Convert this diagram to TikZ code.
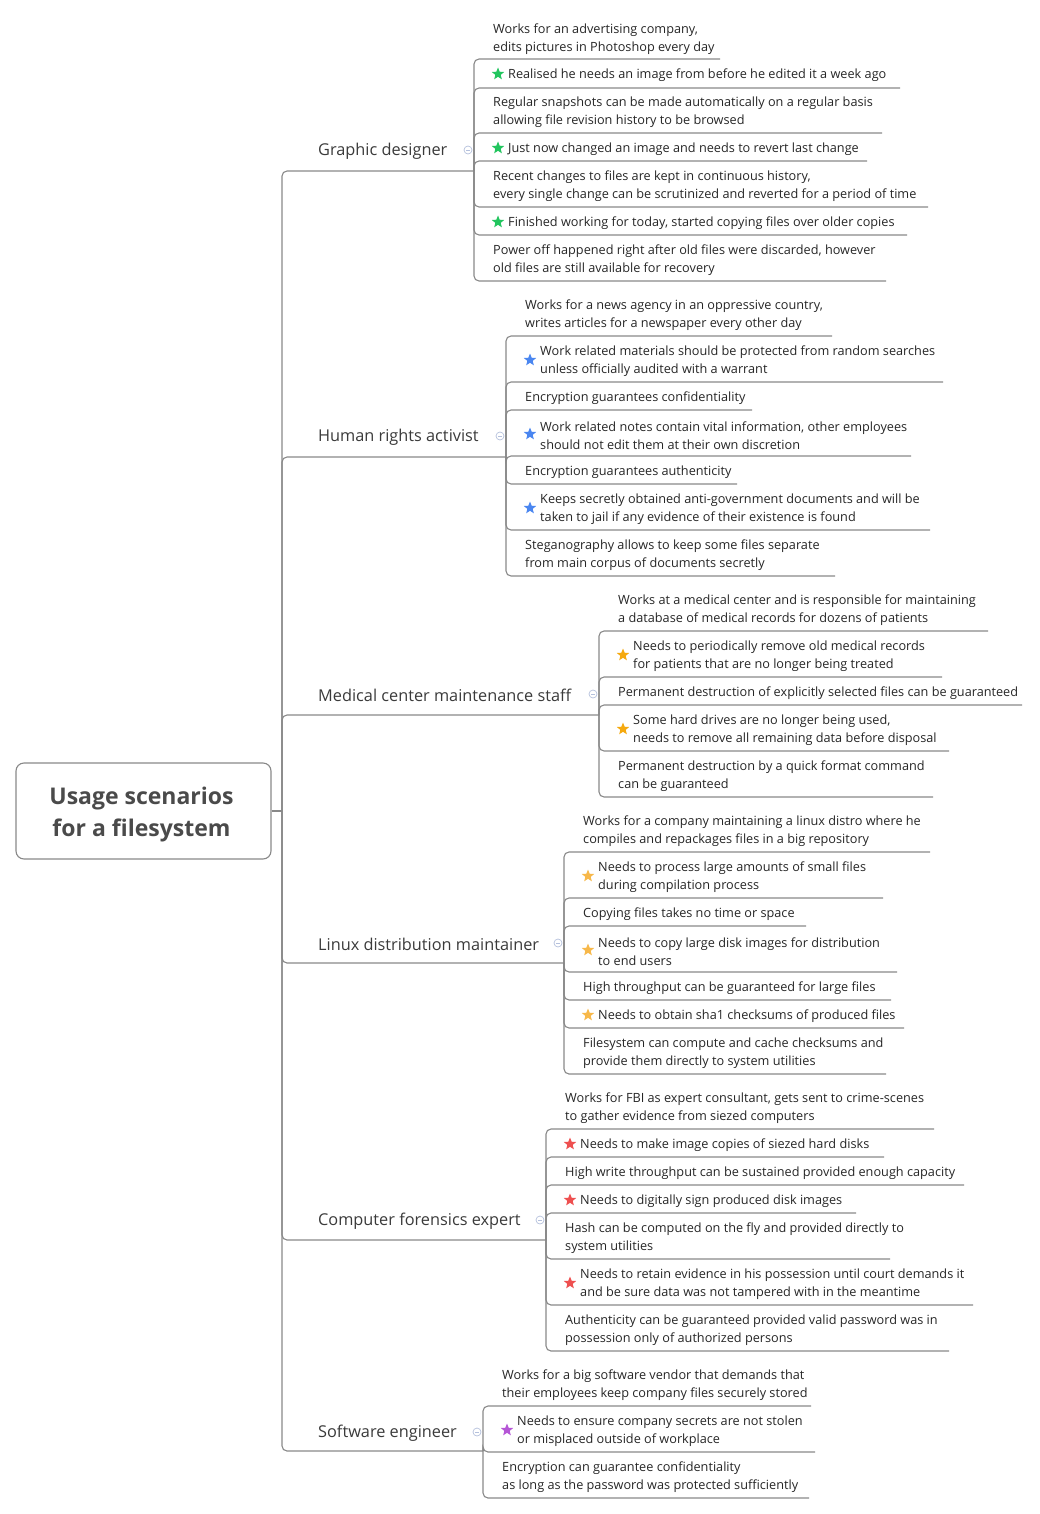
\documentclass[tikz,border=0pt]{standalone}
\usepackage{fontspec}
\setmainfont{Open Sans}
\usetikzlibrary{shapes.geometric}
\definecolor{linec}{HTML}{888888}
\definecolor{txt}{HTML}{262626}
\definecolor{topc}{HTML}{3A3A3A}
\definecolor{rootc}{HTML}{4A4A4A}
\definecolor{colc}{HTML}{B4C0DC}
\definecolor{sgreen}{HTML}{22C55E}
\definecolor{sblue}{HTML}{4A86F0}
\definecolor{sorange}{HTML}{F5A90F}
\definecolor{slorange}{HTML}{F7B84A}
\definecolor{sred}{HTML}{EE5050}
\definecolor{spurple}{HTML}{B556D6}
\tikzset{
  branch/.style={draw=linec,line width=1.1pt,rounded corners=5pt},
  kid/.style={inner sep=0pt,align=left,text=txt,font=\fontsize{12.7}{18}\selectfont},
  topic/.style={inner sep=0pt,text=topc,font=\fontsize{16.3}{20}\selectfont},
  starmark/.style={star,star points=5,star point ratio=2.3,minimum size=13pt,inner sep=0pt,draw=none},
  collapse/.style={circle,draw=colc,line width=0.7pt,minimum size=8pt,inner sep=0pt},
  rootbox/.style={draw=linec,line width=1.1pt,rounded corners=8pt,minimum width=255pt,minimum height=96pt}
}
% plain child: name, parent, text x, text centre y, underline y, underline end x, text
\newcommand\kid[7]{%
  \node[kid,anchor=west] (#1) at (#3,#4+1.5) {#7};
  \coordinate (#1e) at (#6,#5);
  \draw[branch] (#2) |- (#1e);}
% starred child: name, parent, star x, text centre y, underline y, underline end x, colour, text
\newcommand\skid[8]{%
  \node[starmark,fill=#7] (#1s) at (#3,#4) {};
  \node[kid,anchor=west] (#1) at ([xshift=10pt,yshift=-1.5pt]#1s.center) {#8};
  \coordinate (#1e) at (#6,#5);
  \draw[branch] (#2) |- (#1e);}
% topic: name, label y, underline y, child x, collapse x, text
\newcommand\topicnode[6]{%
  \node[topic,anchor=west] (#1) at (318,#2+1) {#6};
  \node[collapse] (#1c) at (#5,#2) {};
  \draw[colc,line width=0.7pt] ([xshift=-2pt]#1c.center) -- ([xshift=2pt]#1c.center);
  \coordinate (#1j) at (#4,#3);
  \draw[branch] (hub) |- (#1j);}
\begin{document}
\begin{tikzpicture}[x=1pt,y=-1pt]
\useasboundingbox (0,0) rectangle (1039,1514);
\node[rootbox] (root) at (143.5,811) {};
\node[inner sep=0pt,align=center,text=rootc,font=\fontsize{23}{32}\selectfont\bfseries] (roottext) at (141.5,815) {Usage scenarios\\for a filesystem};
\coordinate (hub) at (282,811);
\draw[branch] (root.east) -- (hub);

% Graphic designer
\topicnode{g}{150}{171}{474}{468}{Graphic designer}
\kid{g1}{gj}{493}{37.5}{59}{720}{Works for an advertising company,\\edits pictures in Photoshop every day}
\skid{g2}{gj}{498}{74}{88}{900}{sgreen}{Realised he needs an image from before he edited it a week ago}
\kid{g3}{gj}{493}{111}{133}{882}{Regular snapshots can be made automatically on a regular basis\\allowing file revision history to be browsed}
\skid{g4}{gj}{498}{148}{161}{867}{sgreen}{Just now changed an image and needs to revert last change}
\kid{g5}{gj}{493}{185}{207}{928}{Recent changes to files are kept in continuous history,\\every single change can be scrutinized and reverted for a period of time}
\skid{g6}{gj}{498}{222}{235}{907}{sgreen}{Finished working for today, started copying files over older copies}
\kid{g7}{gj}{493}{259}{281}{886}{Power off happened right after old files were discarded, however\\old files are still available for recovery}

% Human rights activist
\topicnode{h}{436}{457}{506}{500}{Human rights activist}
\kid{h1}{hj}{525}{314}{336}{832}{Works for a news agency in an oppressive country,\\writes articles for a newspaper every other day}
\skid{h2}{hj}{530}{360}{382}{943}{sblue}{Work related materials should be protected from random searches\\unless officially audited with a warrant}
\kid{h3}{hj}{525}{397}{410}{752}{Encryption guarantees confidentiality}
\skid{h4}{hj}{530}{434}{456}{911}{sblue}{Work related notes contain vital information, other employees\\should not edit them at their own discretion}
\kid{h5}{hj}{525}{471}{484}{737}{Encryption guarantees authenticity}
\skid{h6}{hj}{530}{508}{530}{930}{sblue}{Keeps secretly obtained anti-government documents and will be\\taken to jail if any evidence of their existence is found}
\kid{h7}{hj}{525}{554}{576}{835}{Steganography allows to keep some files separate\\from main corpus of documents secretly}

% Medical center maintenance staff
\topicnode{m}{694}{715}{599}{593}{Medical center maintenance staff}
\kid{m1}{mj}{618}{609}{631}{988}{Works at a medical center and is responsible for maintaining\\a database of medical records for dozens of patients}
\skid{m2}{mj}{623}{655}{677}{942}{sorange}{Needs to periodically remove old medical records\\for patients that are no longer being treated}
\kid{m3}{mj}{618}{692}{705}{1022}{Permanent destruction of explicitly selected files can be guaranteed}
\skid{m4}{mj}{623}{729}{751}{949}{sorange}{Some hard drives are no longer being used,\\needs to remove all remaining data before disposal}
\kid{m5}{mj}{618}{775}{797}{933}{Permanent destruction by a quick format command\\can be guaranteed}

% Linux distribution maintainer
\topicnode{l}{943}{963}{564}{558}{Linux distribution maintainer}
\kid{l1}{lj}{583}{830}{852}{930}{Works for a company maintaining a linux distro where he\\compiles and repackages files in a big repository}
\skid{l2}{lj}{588}{876}{898}{883}{slorange}{Needs to process large amounts of small files\\during compilation process}
\kid{l3}{lj}{583}{913}{926}{806}{Copying files takes no time or space}
\skid{l4}{lj}{588}{950}{972}{897}{slorange}{Needs to copy large disk images for distribution\\to end users}
\kid{l5}{lj}{583}{987}{1000}{891}{High throughput can be guaranteed for large files}
\skid{l6}{lj}{588}{1015}{1028}{904}{slorange}{Needs to obtain sha1 checksums of produced files}
\kid{l7}{lj}{583}{1052}{1074}{886}{Filesystem can compute and cache checksums and\\provide them directly to system utilities}

% Computer forensics expert
\topicnode{c}{1220}{1240}{546}{540}{Computer forensics expert}
\kid{c1}{cj}{565}{1107}{1129}{934}{Works for FBI as expert consultant, gets sent to crime-scenes\\to gather evidence from siezed computers}
\skid{c2}{cj}{570}{1144}{1157}{884}{sred}{Needs to make image copies of siezed hard disks}
\kid{c3}{cj}{565}{1172}{1185}{964}{High write throughput can be sustained provided enough capacity}
\skid{c4}{cj}{570}{1200}{1213}{856}{sred}{Needs to digitally sign produced disk images}
\kid{c5}{cj}{565}{1237}{1259}{890}{Hash can be computed on the fly and provided directly to\\system utilities}
\skid{c6}{cj}{570}{1283}{1305}{973}{sred}{Needs to retain evidence in his possession until court demands it\\and be sure data was not tampered with in the meantime}
\kid{c7}{cj}{565}{1329}{1351}{949}{Authenticity can be guaranteed provided valid password was in\\possession only of authorized persons}

% Software engineer
\topicnode{s}{1432}{1451}{483}{477}{Software engineer}
\kid{s1}{sj}{502}{1384}{1406}{811}{Works for a big software vendor that demands that\\their employees keep company files securely stored}
\skid{s2}{sj}{507}{1430}{1452}{815}{spurple}{Needs to ensure company secrets are not stolen\\or misplaced outside of workplace}
\kid{s3}{sj}{502}{1476}{1498}{809}{Encryption can guarantee confidentiality\\as long as the password was protected sufficiently}
\end{tikzpicture}
\end{document}
